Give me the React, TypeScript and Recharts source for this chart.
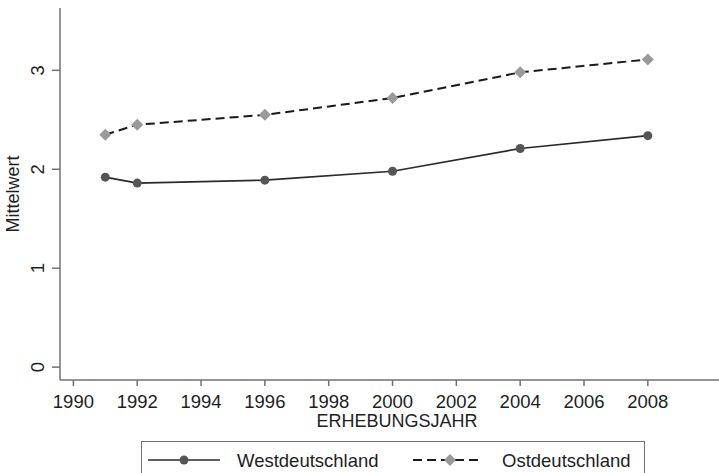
import { LineChart, Line, XAxis, YAxis } from 'recharts'

const years = [1991, 1992, 1996, 2000, 2004, 2008]
const west = [1.92, 1.86, 1.89, 1.98, 2.21, 2.34]
const east = [2.35, 2.45, 2.55, 2.72, 2.98, 3.11]
const xTicks = [1990, 1992, 1994, 1996, 1998, 2000, 2002, 2004, 2006, 2008]
const yTicks = [0, 1, 2, 3]

const X_MIN = 1989.58
const X_MAX = 2010.7
const Y_MIN = -0.13
const Y_MAX = 3.63

const FONT = '"Liberation Sans", Arial, sans-serif'
const AXIS = '#707070'
const TEXT = '#1e1e1e'

const data = years.map((y, i) => ({ year: y, west: west[i], east: east[i] }))

const YTick = ({ x, y, payload }: any) => (
  <text transform={`translate(${x - 6},${y}) rotate(-90)`} textAnchor="middle"
    fontSize={18.5} fill={TEXT} fontFamily={FONT}>
    {payload.value}
  </text>
)

const Diamond = ({ cx, cy }: any) => {
  if (cx == null || cy == null) return null
  const r = 6
  return <path d={`M${cx},${cy - r}L${cx + r},${cy}L${cx},${cy + r}L${cx - r},${cy}Z`} fill="#9a9a9a" />
}

export default function App() {
  return (
    <div style={{ position: 'absolute', left: 0, top: 0, width: 719, height: 473, overflow: 'hidden', background: '#fff', fontFamily: FONT }}>
      <LineChart width={740} height={473} data={data} margin={{ top: 8, right: 6, left: 0, bottom: 0 }}>
        <XAxis xAxisId="top" orientation="top" dataKey="year" type="number" domain={[X_MIN, X_MAX]} allowDataOverflow
          height={0} tick={false} tickLine={false} stroke={AXIS} strokeWidth={1.5} />
        <XAxis dataKey="year" type="number" domain={[X_MIN, X_MAX]} ticks={xTicks} allowDataOverflow
          height={93} tickSize={6} tickMargin={9} stroke={AXIS} strokeWidth={1.5}
          tick={{ fontSize: 18.5, fill: TEXT, fontFamily: FONT }}
          label={{ value: 'ERHEBUNGSJAHR', position: 'insideTop', offset: 34, fontSize: 18, fill: TEXT, fontFamily: FONT }} />
        <YAxis type="number" domain={[Y_MIN, Y_MAX]} ticks={yTicks} allowDataOverflow width={60}
          tickSize={8} tickMargin={2} stroke={AXIS} strokeWidth={1.5} tick={<YTick />}
          label={{ value: 'Mittelwert', angle: -90, position: 'insideLeft', offset: 13, fontSize: 18, fill: TEXT, fontFamily: FONT, style: { textAnchor: 'middle' } }} />
        <Line dataKey="west" stroke="#2a2a2a" strokeWidth={1.7} isAnimationActive={false}
          dot={{ r: 4.5, fill: '#555', stroke: 'none' }} activeDot={false} />
        <Line dataKey="east" stroke="#1a1a1a" strokeWidth={2} strokeDasharray="9 5" isAnimationActive={false}
          dot={<Diamond />} activeDot={false} />
      </LineChart>
      <div style={{ position: 'absolute', left: 141, top: 441, width: 502, height: 40, border: `1.5px solid ${AXIS}`, background: '#fff' }}>
        <svg width={502} height={40} style={{ position: 'absolute', left: 0, top: 0 }}>
          <line x1={6} x2={78} y1={18} y2={18} stroke="#2a2a2a" strokeWidth={1.7} />
          <circle cx={42} cy={18} r={4.5} fill="#555" />
          <text x={95} y={24.5} fontSize={18.5} fill={TEXT} fontFamily={FONT}>Westdeutschland</text>
          <line x1={271} x2={341} y1={18} y2={18} stroke="#1a1a1a" strokeWidth={2} strokeDasharray="9 5" />
          <path d="M308,12L314,18L308,24L302,18Z" fill="#9a9a9a" />
          <text x={360} y={24.5} fontSize={18.5} fill={TEXT} fontFamily={FONT}>Ostdeutschland</text>
        </svg>
      </div>
    </div>
  )
}
